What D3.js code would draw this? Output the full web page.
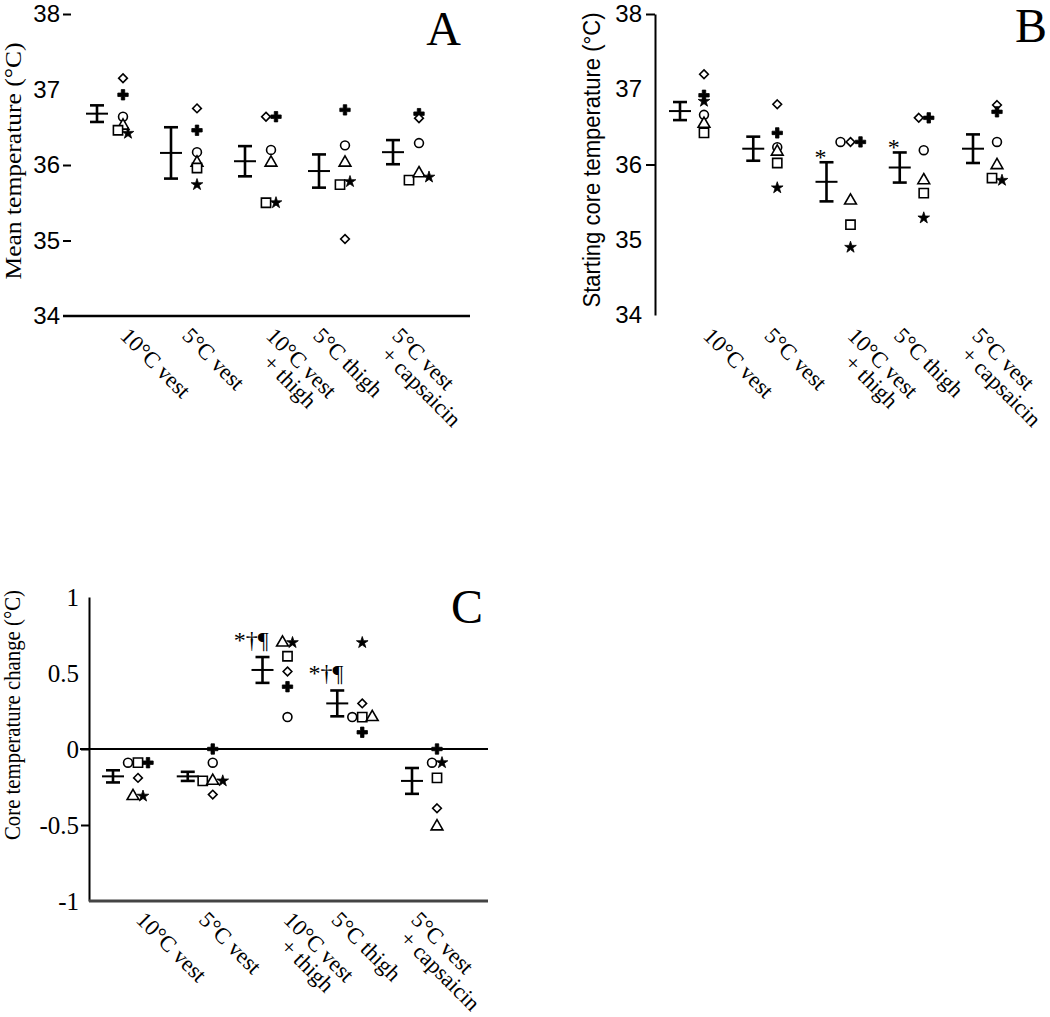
<!DOCTYPE html>
<html><head><meta charset="utf-8">
<script src="https://cdn.jsdelivr.net/npm/d3@7"></script>
<style>body{margin:0;background:#fff} svg{display:block}</style>
</head><body>
<svg id="c" width="1050" height="1017"></svg>
<script>
// ---------- DATA ----------
const categories = [["10°C vest"], ["5°C vest"], ["10°C vest", "\u00a0\u00a0\u00a0+ thigh"], ["5°C thigh"], ["5°C vest", "\u00a0+ capsaicin"]];
// subject symbols (order also used for side-by-side placement)
const subjects = ["circle", "square", "diamond", "triangle", "plus", "star"];

// Panel A: mean temperature
const meanA = [36.68, 36.16, 36.05, 35.92, 36.17];
const errA  = [0.11, 0.34, 0.20, 0.22, 0.16];
const pointsA = [
  [36.64, 36.46, 37.15, 36.52, 36.93, 36.42],
  [36.17, 35.96, 36.75, 36.03, 36.46, 35.74],
  [36.20, 35.50, 36.64, 36.03, 36.64, 35.50],
  [36.26, 35.74, 35.02, 36.03, 36.73, 35.78],
  [36.29, 35.80, 36.62, 35.89, 36.68, 35.84]
];
const tickValsA = [38, 37, 36, 35, 34];
const tickLabelsA = ["38", "37", "36", "35", "34"];

// Panel B: starting core temperature
const meanB = [36.71, 36.21, 35.77, 35.96, 36.21];
const errB  = [0.12, 0.16, 0.26, 0.20, 0.19];
const pointsB = [
  [36.66, 36.42, 37.20, 36.54, 36.92, 36.84],
  [36.23, 36.02, 36.80, 36.17, 36.42, 35.69],
  [36.30, 35.20, 36.30, 35.52, 36.30, 34.90],
  [36.19, 35.62, 36.62, 35.79, 36.62, 35.29],
  [36.30, 35.82, 36.79, 35.99, 36.70, 35.79]
];
const tickValsB = [38, 37, 36, 35, 34];
const tickLabelsB = ["38", "37", "36", "35", "34"];
const annotB = ["", "", "*", "*", ""];

// Panel C: core temperature change
const meanC = [-0.18, -0.18, 0.52, 0.30, -0.21];
const errC  = [0.04, 0.03, 0.085, 0.085, 0.085];
const pointsC = [
  [-0.09, -0.09, -0.19, -0.31, -0.09, -0.31],
  [-0.09, -0.21, -0.30, -0.21, 0.00, -0.21],
  [0.21, 0.61, 0.51, 0.70, 0.41, 0.70],
  [0.21, 0.21, 0.30, 0.21, 0.11, 0.70],
  [-0.09, -0.19, -0.39, -0.51, 0.00, -0.09]
];
const tickValsC = [1, 0.5, 0, -0.5, -1];
const tickLabelsC = ["1", "0.5", "0", "-0.5", "-1"];
const annotC = ["", "", "*†¶", "*†¶", ""];

// ---------- LAYOUT ----------
const labelNudge = [22, 10, 20, -7, -2];
const SERIF = "'Liberation Serif','Times New Roman',serif";
const SANS = "'Liberation Sans',Arial,sans-serif";

const svg = d3.select("#c");
const symMap = {circle: d3.symbolCircle, square: d3.symbolSquare, diamond: d3.symbolDiamond2,
                triangle: d3.symbolTriangle, plus: d3.symbolCross, star: d3.symbolStar};
const symSize = {circle: 62, square: 85, diamond: 48, triangle: 60, plus: 60, star: 42};
const filled = {plus: true, star: true};

function drawPanel(p) {
  const g = svg.append("g");
  const x = d3.scalePoint().domain(d3.range(categories.length)).range(p.xRange);
  const y = d3.scaleLinear().domain(p.yDomain).range(p.yRange);

  const ax = d3.axisLeft(y).tickValues(p.tickVals).tickFormat((d, i) => p.tickLabels[i])
    .tickSizeInner(p.tickSize).tickSizeOuter(0).tickPadding(p.tickPad);
  const ag = g.append("g").attr("transform", `translate(${p.axisX},0)`).call(ax);
  ag.select(".domain").attr("stroke", p.showDomain ? "#000" : "none").attr("stroke-width", 2);
  ag.selectAll(".tick line").attr("stroke-width", 2)
    .attr("stroke", d => p.tickMarks.includes(d) ? "#000" : "none");
  ag.selectAll(".tick text").attr("font-family", p.tickFont).attr("font-size", p.tickFontSize)
    .attr("fill", "#000");

  // extra horizontal lines
  p.hLines.forEach(h => {
    g.append("line").attr("x1", h.x1).attr("x2", h.x2)
      .attr("y1", y(h.v)).attr("y2", y(h.v))
      .attr("stroke", h.color).attr("stroke-width", h.w);
  });

  // error bars
  const cap = 7, mh = 11;
  p.means.forEach((m, i) => {
    const cx = x(i), top = y(m + p.errs[i]), bot = y(m - p.errs[i]), my = y(m);
    const eg = g.append("g").attr("stroke", "#000").attr("stroke-width", 2.6);
    eg.append("line").attr("x1", cx).attr("x2", cx).attr("y1", top).attr("y2", bot);
    eg.append("line").attr("x1", cx - cap).attr("x2", cx + cap).attr("y1", top).attr("y2", top);
    eg.append("line").attr("x1", cx - cap).attr("x2", cx + cap).attr("y1", bot).attr("y2", bot);
    eg.append("line").attr("x1", cx - mh).attr("x2", cx + mh).attr("y1", my).attr("y2", my).attr("stroke-width", 2);
    if (p.annot && p.annot[i]) {
      const a = p.annot[i];
      if (a === "*") {
        g.append("text").attr("x", cx - 6).attr("y", top + 3).attr("text-anchor", "middle")
          .attr("font-family", SERIF).attr("font-size", 24).text(a);
      } else {
        g.append("text").attr("x", cx + 6).attr("y", top - 9).attr("text-anchor", "end")
          .attr("font-family", SERIF).attr("font-size", 24).text(a);
      }
    }
  });

  // individual points with side-by-side placement of overlapping ones
  p.pts.forEach((row, i) => {
    const colX = x(i) + p.ptOffset;
    const pts = subjects.map((s, k) => ({s, k, py: y(row[k])}));
    const sorted = pts.slice().sort((a, b) => a.py - b.py || a.k - b.k);
    const clusters = [];
    sorted.forEach(pt => {
      const last = clusters[clusters.length - 1];
      if (last && pt.py - last[last.length - 1].py <= 4) last.push(pt);
      else clusters.push([pt]);
    });
    clusters.forEach(cl => {
      cl.sort((a, b) => a.k - b.k);
      cl.forEach((pt, j) => {
        const px = colX + (j - (cl.length - 1) / 2) * 10;
        g.append("path")
          .attr("d", d3.symbol().type(symMap[pt.s]).size(symSize[pt.s])())
          .attr("transform", `translate(${px},${pt.py})`)
          .attr("fill", filled[pt.s] ? "#000" : "#fff")
          .attr("stroke", "#000").attr("stroke-width", filled[pt.s] ? 0.8 : 1.6);
      });
    });
  });

  // category labels
  categories.forEach((lines, i) => {
    const t = g.append("text")
      .attr("transform", `translate(${x(i) + labelNudge[i]},${p.labelY}) rotate(45)`)
      .attr("font-family", SERIF).attr("font-size", 22.5).attr("fill", "#000");
    lines.forEach((ln, j) => {
      t.append("tspan").attr("x", 0).attr("dy", j === 0 ? 0 : "0.95em").text(ln);
    });
  });

  // y title
  g.append("text")
    .attr("transform", `translate(${p.title.x},${p.title.y}) rotate(-90)`)
    .attr("text-anchor", "middle").attr("font-family", p.title.font).attr("font-size", p.title.size)
    .attr("textLength", p.title.len).attr("lengthAdjust", "spacingAndGlyphs")
    .text(p.title.text);

  // panel letter
  g.append("text").attr("x", p.letter.x).attr("y", p.letter.y).attr("text-anchor", "end")
    .attr("font-family", SERIF).attr("font-size", 48).text(p.letter.t);
}

drawPanel({
  means: meanA, errs: errA, pts: pointsA, yDomain: [34, 38], yRange: [316, 14],
  xRange: [97, 393], ptOffset: 26, axisX: 71, showDomain: false,
  tickVals: tickValsA, tickLabels: tickLabelsA, tickMarks: [38, 36, 35], tickSize: 8, tickPad: 3,
  tickFont: SANS, tickFontSize: 24,
  hLines: [{v: 34, x1: 63, x2: 470, color: "#000", w: 2.5}],
  labelY: 337,
  title: {x: 21, y: 161, text: "Mean temperature (°C)", font: SERIF, size: 24, len: 237},
  letter: {x: 461, y: 45, t: "A"}
});

drawPanel({
  means: meanB, errs: errB, pts: pointsB, yDomain: [34, 38], yRange: [315, 14],
  xRange: [680, 973], ptOffset: 24, axisX: 655, showDomain: true,
  tickVals: tickValsB, tickLabels: tickLabelsB, tickMarks: [38, 36], tickSize: 9, tickPad: 4,
  tickFont: SANS, tickFontSize: 24, annot: annotB,
  hLines: [],
  labelY: 337,
  title: {x: 600, y: 160, text: "Starting core temperature (°C)", font: SANS, size: 23, len: 295},
  letter: {x: 1047, y: 42, t: "B"}
});

drawPanel({
  means: meanC, errs: errC, pts: pointsC, yDomain: [-1, 1], yRange: [901, 597],
  xRange: [113, 412], ptOffset: 25, axisX: 89, showDomain: true,
  tickVals: tickValsC, tickLabels: tickLabelsC, tickMarks: [0, -0.5], tickSize: 8, tickPad: 2,
  tickFont: SERIF, tickFontSize: 25, annot: annotC,
  hLines: [{v: 0, x1: 80, x2: 488, color: "#000", w: 2}, {v: -1, x1: 89, x2: 488, color: "#444", w: 3}],
  labelY: 921,
  title: {x: 20, y: 715, text: "Core temperature change (°C)", font: SERIF, size: 24, len: 250},
  letter: {x: 483, y: 623, t: "C"}
});
</script>
</body></html>
